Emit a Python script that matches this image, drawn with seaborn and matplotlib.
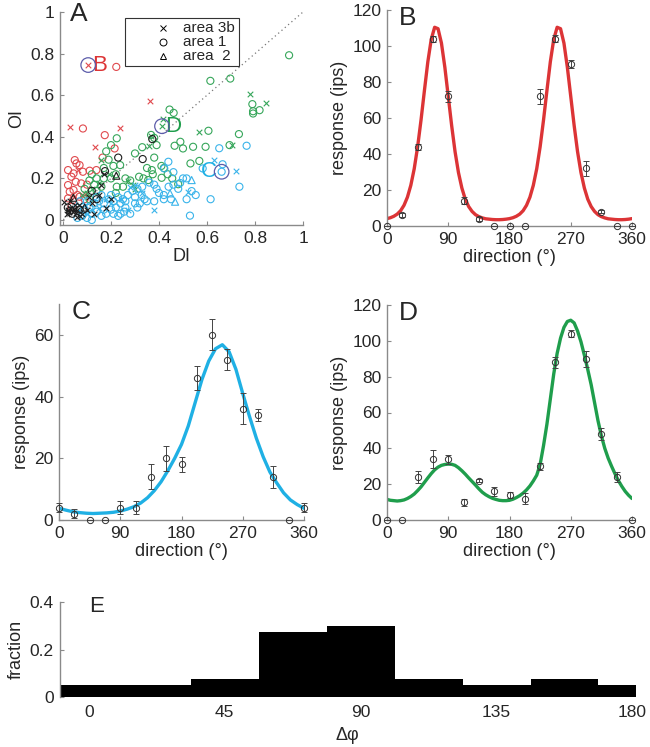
import seaborn as sns
import matplotlib.pyplot as plt
from matplotlib.patches import Rectangle

# ---------------- panel A : direction index vs orientation index ----------------
# red = orientation tuned, green = both, cyan = direction tuned, black = weak
red_x_di = [0.105, 0.361, 0.031, 0.236, 0.132, 0.063, 0.092, 0.045]
red_x_oi = [0.745, 0.573, 0.448, 0.440, 0.352, 0.240, 0.125, 0.110]
red_o_di = [0.222, 0.083, 0.174, 0.215, 0.049, 0.056, 0.069, 0.021, 0.035, 0.044, 0.053,
            0.083, 0.111, 0.139, 0.021, 0.028, 0.044, 0.069, 0.042, 0.076, 0.021, 0.035,
            0.060, 0.090, 0.100, 0.165]
red_o_oi = [0.736, 0.440, 0.408, 0.344, 0.288, 0.272, 0.264, 0.240, 0.208, 0.224, 0.184,
            0.232, 0.237, 0.240, 0.168, 0.136, 0.144, 0.112, 0.096, 0.176, 0.104, 0.064,
            0.120, 0.100, 0.170, 0.300]

green_x_di = [0.781, 0.847, 0.417, 0.4125, 0.360, 0.567, 0.705, 0.270, 0.293, 0.160,
              0.120, 0.100, 0.080, 0.150, 0.190, 0.365, 0.300]
green_x_oi = [0.608, 0.563, 0.488, 0.451, 0.356, 0.424, 0.360, 0.188, 0.168, 0.290,
              0.150, 0.130, 0.120, 0.180, 0.220, 0.405, 0.150]
green_o_di = [0.942, 0.614, 0.697, 0.789, 0.819, 0.792, 0.792, 0.444, 0.461, 0.367,
              0.380, 0.489, 0.465, 0.500, 0.542, 0.606, 0.594, 0.694, 0.733, 0.531,
              0.568, 0.224, 0.238, 0.317, 0.335, 0.355, 0.374, 0.411, 0.436, 0.455,
              0.480, 0.224, 0.380, 0.410, 0.420, 0.390, 0.300, 0.330, 0.200, 0.180,
              0.190, 0.210, 0.170, 0.140, 0.170, 0.200, 0.130, 0.160, 0.110, 0.120,
              0.220, 0.260, 0.280, 0.250, 0.220, 0.090, 0.110, 0.140, 0.350, 0.370]
green_o_oi = [0.792, 0.669, 0.680, 0.557, 0.528, 0.523, 0.512, 0.531, 0.515, 0.409,
              0.395, 0.376, 0.357, 0.344, 0.352, 0.429, 0.352, 0.360, 0.413, 0.272,
              0.284, 0.393, 0.264, 0.208, 0.200, 0.192, 0.220, 0.203, 0.220, 0.200,
              0.172, 0.160, 0.300, 0.260, 0.250, 0.360, 0.320, 0.350, 0.360, 0.330,
              0.290, 0.260, 0.250, 0.200, 0.200, 0.200, 0.170, 0.160, 0.190, 0.220,
              0.220, 0.200, 0.190, 0.160, 0.130, 0.150, 0.100, 0.140, 0.250, 0.240]

cyan_x_di = [0.630, 0.720, 0.522, 0.330, 0.200, 0.150, 0.120, 0.100, 0.280, 0.270,
             0.180, 0.090, 0.070, 0.380, 0.300, 0.240]
cyan_x_oi = [0.288, 0.237, 0.136, 0.130, 0.080, 0.060, 0.050, 0.030, 0.160, 0.050,
             0.100, 0.070, 0.040, 0.050, 0.170, 0.100]
cyan_o_di = [0.651, 0.765, 0.665, 0.661, 0.582, 0.515, 0.735, 0.536, 0.553, 0.515,
             0.615, 0.529, 0.488, 0.439, 0.422, 0.328, 0.340, 0.300, 0.310, 0.260,
             0.255, 0.280, 0.240, 0.250, 0.270, 0.290, 0.310, 0.330, 0.360, 0.380,
             0.390, 0.400, 0.420, 0.440, 0.460, 0.480, 0.450, 0.420, 0.380, 0.350,
             0.080, 0.100, 0.120, 0.140, 0.160, 0.180, 0.200, 0.220, 0.130, 0.150,
             0.170, 0.190, 0.210, 0.230, 0.110, 0.090, 0.060, 0.070, 0.100, 0.160,
             0.200, 0.140, 0.240, 0.260, 0.120, 0.060, 0.170, 0.210, 0.230, 0.300,
             0.320, 0.500, 0.460]
cyan_o_oi = [0.345, 0.357, 0.268, 0.232, 0.248, 0.200, 0.160, 0.139, 0.120, 0.100,
             0.100, 0.021, 0.178, 0.280, 0.248, 0.120, 0.100, 0.080, 0.060, 0.060,
             0.040, 0.030, 0.030, 0.100, 0.120, 0.140, 0.150, 0.160, 0.180, 0.170,
             0.150, 0.130, 0.120, 0.160, 0.170, 0.150, 0.100, 0.100, 0.090, 0.090,
             0.020, 0.010, 0.030, 0.040, 0.020, 0.030, 0.050, 0.060, 0.080, 0.090,
             0.080, 0.100, 0.090, 0.110, 0.060, 0.050, 0.060, 0.090, 0.090, 0.120,
             0.120, 0.110, 0.080, 0.090, 0.000, 0.010, 0.050, 0.030, 0.020, 0.110,
             0.080, 0.200, 0.230]
cyan_t_di = [0.446, 0.467, 0.536]
cyan_t_oi = [0.128, 0.088, 0.192]

black_x_di = [0.005, 0.020, 0.015, 0.030, 0.040, 0.050, 0.060, 0.080, 0.070, 0.057,
              0.100, 0.120, 0.150, 0.160, 0.180, 0.130, 0.170, 0.200, 0.030, 0.025,
              0.045, 0.055, 0.065, 0.110]
black_x_oi = [0.085, 0.050, 0.030, 0.060, 0.040, 0.070, 0.050, 0.030, 0.020, 0.016,
              0.050, 0.080, 0.120, 0.170, 0.060, 0.030, 0.220, 0.100, 0.090, 0.040,
              0.055, 0.035, 0.070, 0.110]
black_o_di = [0.372, 0.332, 0.230, 0.020, 0.040, 0.030, 0.070, 0.120, 0.140, 0.175]
black_o_oi = [0.389, 0.293, 0.300, 0.060, 0.030, 0.045, 0.050, 0.140, 0.100, 0.235]
black_t_di = [0.222, 0.043, 0.090]
black_t_oi = [0.213, 0.107, 0.060]

# example cells shown in B, D, C
example_names = ["B", "D", "C"]
example_di = [0.105, 0.4125, 0.661]
example_oi = [0.745, 0.451, 0.232]

area_names = ["area 3b", "area 1", "area  2"]
area_markers = ["x", "o", "^"]

# ---------------- panels B-D : tuning curves ----------------
directions = [0, 22.5, 45, 67.5, 90, 112.5, 135, 157.5, 180,
              202.5, 225, 247.5, 270, 292.5, 315, 337.5, 360]
b_resp = [0, 6, 44, 104, 72, 14, 4, 0, 0, 0, 72, 104, 90, 32, 8, 0, 0]
b_err = [0, 1, 1.5, 1.5, 3, 2, 1, 0, 0, 0, 4, 2, 2, 4, 1, 0, 0]
c_resp = [4, 2, 0, 0, 4, 4, 14, 20, 18, 46, 60, 52, 36, 34, 14, 0, 4]
c_err = [1.5, 1.5, 0, 0, 2, 2, 4, 4, 2.5, 4, 5, 3.5, 5, 2, 3.5, 0, 1.5]
d_resp = [0, 0, 24, 34, 34, 10, 22, 16, 14, 12, 30, 88, 104, 90, 48, 24, 0]
d_err = [0, 0, 3.5, 5, 2.5, 2, 1, 2.5, 1.5, 3, 2, 3, 2, 4.5, 3.5, 3, 0]

# fitted curves (B and D every 5 deg, C every 10 deg)
fit_dirs_5 = list(range(0, 361, 5))
fit_dirs_10 = list(range(0, 361, 10))
b_fit = [4.1, 4.6, 5.4, 6.6, 8.5, 11.5, 16.0, 22.6, 31.8, 44.0, 58.9, 75.3,
         91.2, 103.7, 110.4, 109.6, 101.6, 88.2, 72.0, 55.8, 41.3, 29.7, 21.1, 14.9,
         10.8, 8.1, 6.3, 5.2, 4.5, 4.0, 3.8, 3.6, 3.5, 3.5, 3.6, 3.8,
         4.1, 4.6, 5.4, 6.6, 8.5, 11.5, 16.0, 22.6, 31.8, 44.0, 58.9, 75.3,
         91.2, 103.7, 110.4, 109.6, 101.6, 88.2, 72.0, 55.8, 41.3, 29.7, 21.1, 14.9,
         10.8, 8.1, 6.3, 5.2, 4.5, 4.0, 3.8, 3.6, 3.5, 3.5, 3.6, 3.8, 4.1]
c_fit = [3.8, 3.2, 2.7, 2.4, 2.2, 2.1, 2.2, 2.3, 2.5, 2.9, 3.5, 4.3, 5.5, 7.2, 9.5,
         12.4, 16.0, 20.0, 24.5, 30.5, 38.0, 45.5, 51.5, 55.5, 56.8, 54.5, 48.8, 41.0,
         33.5, 26.5, 20.5, 15.5, 12.0, 8.8, 6.5, 5.0, 3.8]
d_fit = [11.5, 11.0, 10.8, 10.6, 10.8, 11.2, 12.0, 13.1, 14.5, 16.4, 18.5, 21.0,
         23.5, 25.9, 28.0, 29.5, 30.5, 31.0, 31.2, 31.1, 30.5, 29.2, 27.5, 25.6,
         23.5, 21.5, 19.5, 17.4, 15.5, 14.1, 13.0, 12.1, 11.5, 11.0, 10.8, 10.8,
         11.0, 11.6, 12.5, 13.6, 15.0, 16.8, 19.0, 21.8, 25.0, 31.0, 41.5, 53.5,
         67.5, 81.5, 93.0, 101.5, 107.5, 110.8, 111.5, 110.0, 105.5, 99.5, 92.0, 84.0,
         75.5, 65.5, 55.5, 47.0, 40.0, 34.5, 30.0, 25.8, 22.0, 18.8, 16.0, 13.8, 12.0]

# ---------------- panel E : preferred direction difference ----------------
dphi_centers = [0, 22.5, 45, 67.5, 90, 112.5, 135, 157.5, 180]
dphi_fraction = [0.05, 0.05, 0.075, 0.275, 0.30, 0.075, 0.05, 0.075, 0.05]

RED = "#dc3436"
GREEN = "#1f9e4c"
CYAN = "#1fb0e4"
RED_PT = "#e04a4e"
GREEN_PT = "#36a65a"
CYAN_PT = "#3ab4ea"
BLACK_PT = "#1e1e1e"
RING = "#5c5caa"
SPINE = "#8a8a8a"
LETTER_SIZE = 19


def style_axes(ax):
    sns.despine(ax=ax)
    for s in ("left", "bottom"):
        ax.spines[s].set_color(SPINE)
        ax.spines[s].set_linewidth(1.0)
    ax.tick_params(direction="in", length=3, width=0.8, color=SPINE,
                   labelsize=12.5, pad=4)


def cells(ax, di, oi, color, marker, **kw):
    if marker == "x":
        sns.scatterplot(x=di, y=oi, color=color, marker="x", s=kw.get("s", 16),
                        linewidth=0.8, ax=ax, zorder=kw.get("zorder", 3), clip_on=False)
    else:
        sns.scatterplot(x=di, y=oi, marker=marker, s=kw.get("s", 26), facecolors="none",
                        edgecolor=color, linewidth=0.8, ax=ax,
                        zorder=kw.get("zorder", 3), clip_on=False)


def tuning(ax, resp, err, fit_x, fit, color, ymax, yticks, letter):
    sns.lineplot(x=fit_x, y=fit, color=color, linewidth=2.4, ax=ax, zorder=2)
    ax.errorbar(directions, resp, yerr=err, fmt="o", ms=4.5, mfc="none",
                mec="#333333", mew=0.7, ecolor="#444444", elinewidth=0.7,
                capsize=2, capthick=0.7, clip_on=False, zorder=3)
    ax.set_xlim(0, 360)
    ax.set_ylim(0, ymax)
    ax.set_xticks([0, 90, 180, 270, 360])
    ax.set_yticks(yticks)
    ax.set_xlabel("direction (°)", fontsize=13, labelpad=2)
    ax.set_ylabel("response (ips)", fontsize=13, labelpad=3)
    style_axes(ax)
    ax.text(0.05, 1.02, letter, transform=ax.transAxes, fontsize=LETTER_SIZE,
            va="top", ha="left")


sns.set_style("ticks")
plt.rcParams["font.family"] = ["Liberation Sans", "DejaVu Sans"]

fig = plt.figure(figsize=(6.5, 7.47), dpi=100)
W, H = 650, 747
axA = fig.add_axes([60 / W, 1 - 225 / H, 243 / W, 213 / H])
axB = fig.add_axes([387 / W, 1 - 226 / H, 245 / W, 216 / H])
axC = fig.add_axes([59 / W, 1 - 520 / H, 245 / W, 216 / H])
axD = fig.add_axes([387 / W, 1 - 520 / H, 245 / W, 215 / H])
axE = fig.add_axes([59.5 / W, 1 - 697 / H, 576 / W, 95 / H])

# ---- A ----
axA.axline((0, 0), slope=1, ls=(0, (1, 2.5)), color="#777777", lw=0.9, zorder=1)
cells(axA, red_o_di, red_o_oi, RED_PT, "o")
cells(axA, red_x_di, red_x_oi, RED_PT, "x")
cells(axA, green_o_di, green_o_oi, GREEN_PT, "o")
cells(axA, green_x_di, green_x_oi, GREEN_PT, "x")
cells(axA, cyan_o_di, cyan_o_oi, CYAN_PT, "o")
cells(axA, cyan_x_di, cyan_x_oi, CYAN_PT, "x")
cells(axA, cyan_t_di, cyan_t_oi, CYAN_PT, "^")
cells(axA, black_o_di, black_o_oi, BLACK_PT, "o")
cells(axA, black_x_di, black_x_oi, BLACK_PT, "x")
cells(axA, black_t_di, black_t_oi, BLACK_PT, "^")
sns.scatterplot(x=example_di, y=example_oi, s=110, facecolors="none",
                edgecolor=RING, linewidth=0.9, ax=axA, zorder=4)
label_colors = [RED, GREEN, CYAN]
label_dx = [0.048, 0.048, -0.052]
for name, di, oi, col, dx in zip(example_names, example_di, example_oi,
                                 label_colors, label_dx):
    axA.text(di + dx, oi, name, color=col, fontsize=16, va="center",
             ha="center")
axA.set_xlim(-0.0125, 1.0)
axA.set_ylim(-0.024, 1.0)
ticks01 = [0, 0.2, 0.4, 0.6, 0.8, 1]
tick01_labels = ["0", "0.2", "0.4", "0.6", "0.8", "1"]
axA.set_xticks(ticks01, tick01_labels)
axA.set_yticks(ticks01, tick01_labels)
axA.set_xlabel("DI", fontsize=13, labelpad=2)
axA.set_ylabel("OI", fontsize=13, labelpad=4)
style_axes(axA)
axA.text(0.04, 1.045, "A", transform=axA.transAxes, fontsize=LETTER_SIZE, va="top")

# area legend, boxed like the original (marker column, then text)
axA.add_patch(Rectangle((0.2675, 0.746), 0.469, 0.226, transform=axA.transAxes,
                        facecolor="white", edgecolor="#333333", lw=0.8, zorder=6))
for i, (name, mk) in enumerate(zip(area_names, area_markers)):
    row_y = 0.925 - 0.066 * i
    if mk == "x":
        axA.plot(0.424, row_y, marker=mk, color="k", ms=4, mew=0.7, ls="none",
                 transform=axA.transAxes, zorder=7)
    else:
        axA.plot(0.424, row_y, marker=mk, mfc="none", mec="k", ms=5, mew=0.7,
                 ls="none", transform=axA.transAxes, zorder=7)
    axA.text(0.506, row_y, name, transform=axA.transAxes, fontsize=11,
             va="center", ha="left", zorder=7)

# ---- B, C, D ----
tuning(axB, b_resp, b_err, fit_dirs_5, b_fit, RED, 120,
       [0, 20, 40, 60, 80, 100, 120], "B")
tuning(axC, c_resp, c_err, fit_dirs_10, c_fit, CYAN, 70, [0, 20, 40, 60], "C")
tuning(axD, d_resp, d_err, fit_dirs_5, d_fit, GREEN, 120,
       [0, 20, 40, 60, 80, 100, 120], "D")

# ---- E ----
sns.barplot(x=dphi_centers, y=dphi_fraction, native_scale=True, width=1,
            color="black", saturation=1, linewidth=0, errorbar=None, ax=axE)
axE.set_xlim(-9.7, 181)
axE.set_ylim(0, 0.4)
axE.set_xticks([0, 45, 90, 135, 180], ["0", "45", "90", "135", "180"])
axE.set_yticks([0, 0.2, 0.4], ["0", "0.2", "0.4"])
axE.set_xlabel("Δφ", fontsize=13, labelpad=5)
axE.set_ylabel("fraction", fontsize=13, labelpad=4)
style_axes(axE)
axE.spines["bottom"].set_visible(False)
axE.tick_params(axis="x", length=0, pad=6)
axE.text(0.052, 1.06, "E", transform=axE.transAxes, fontsize=16, va="top")

fig.savefig("out.png", dpi=100)
